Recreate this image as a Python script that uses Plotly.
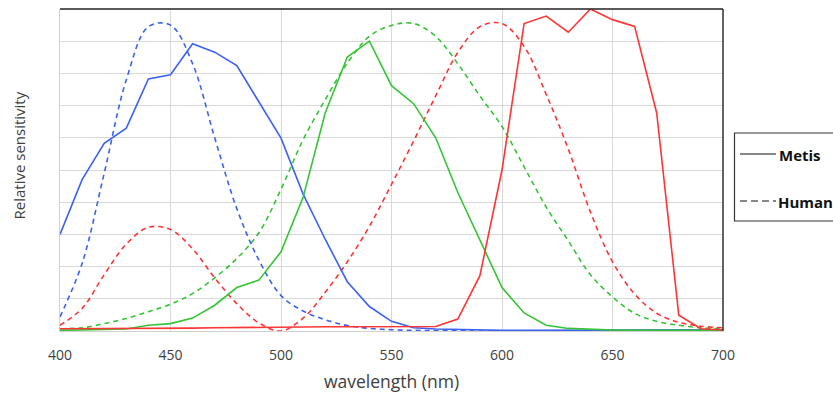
import plotly.graph_objects as go

wavelength = list(range(400, 701, 10))
x_ticks = [400, 450, 500, 550, 600, 650, 700]

metis_blue = [0.30, 0.47, 0.583, 0.63, 0.783, 0.796, 0.892, 0.866, 0.824, 0.711, 0.599,
              0.425, 0.285, 0.153, 0.076, 0.03, 0.01, 0.006, 0.004, 0.003, 0.002,
              0.002, 0.002, 0.002, 0.002, 0.002, 0.002, 0.002, 0.003, 0.003, 0.004]
metis_green = [0.002, 0.003, 0.004, 0.006, 0.018, 0.023, 0.04, 0.08, 0.135, 0.158, 0.246,
               0.415, 0.677, 0.851, 0.9, 0.762, 0.706, 0.6, 0.43, 0.282, 0.135,
               0.056, 0.018, 0.008, 0.005, 0.003, 0.002, 0.002, 0.002, 0.002, 0.002]
metis_red = [0.007, 0.007, 0.008, 0.008, 0.008, 0.008, 0.009, 0.01, 0.011, 0.012, 0.012,
             0.013, 0.013, 0.013, 0.013, 0.013, 0.013, 0.014, 0.037, 0.172, 0.5,
             0.955, 0.978, 0.928, 1.0, 0.967, 0.946, 0.677, 0.049, 0.007, 0.003]

human_blue = [0.044, 0.21, 0.49, 0.78, 0.945, 0.95, 0.83, 0.60, 0.38, 0.22, 0.11,
              0.062, 0.035, 0.017, 0.008, 0.004, 0.002, 0.001, 0.001, 0.0, 0.0,
              0.0, 0.0, 0.0, 0.0, 0.0, 0.0, 0.0, 0.0, 0.0, 0.0]
human_green = [0.007, 0.01, 0.023, 0.039, 0.06, 0.083, 0.116, 0.165, 0.225, 0.305, 0.44,
               0.594, 0.718, 0.832, 0.915, 0.949, 0.955, 0.915, 0.83, 0.73, 0.635,
               0.51, 0.385, 0.28, 0.175, 0.106, 0.055, 0.03, 0.018, 0.01, 0.006]
human_red = [0.018, 0.07, 0.175, 0.27, 0.322, 0.315, 0.255, 0.165, 0.085, 0.025, 0.0,
             0.04, 0.12, 0.215, 0.325, 0.455, 0.59, 0.73, 0.865, 0.945, 0.955,
             0.884, 0.735, 0.565, 0.37, 0.215, 0.115, 0.055, 0.027, 0.015, 0.01]

BLUE = "#3b62f2"
GREEN = "#35c435"
RED = "#ff3434"

fig = go.Figure()
for ys, col in [(human_blue, BLUE), (human_green, GREEN), (human_red, RED)]:
    fig.add_trace(go.Scatter(x=wavelength, y=ys, mode="lines", showlegend=False,
                             line=dict(color=col, width=1.6, dash="5px,4px", shape="spline", smoothing=1.0)))
for ys, col in [(metis_blue, BLUE), (metis_green, GREEN), (metis_red, RED)]:
    fig.add_trace(go.Scatter(x=wavelength, y=ys, mode="lines", showlegend=False,
                             line=dict(color=col, width=1.6)))

# body margin is removed in post_script, so figure coordinates = window coordinates
L, R, T, B = 60, 723, 9, 331
W, H = 833, 393


def px(x):
    return (x - L) / (R - L)


def py(y):
    return (B - y) / (B - T)


shapes = [
    dict(type="line", xref="paper", yref="paper", x0=0, x1=1, y0=1, y1=1,
         line=dict(color="#222222", width=1.6)),
    dict(type="line", xref="paper", yref="paper", x0=1, x1=1, y0=0, y1=1,
         line=dict(color="#222222", width=1.4)),
    dict(type="rect", xref="paper", yref="paper", x0=px(734.5), x1=px(850), y0=py(221), y1=py(133),
         line=dict(color="#333333", width=1.2), fillcolor="white"),
    dict(type="line", xref="paper", yref="paper", x0=px(740), x1=px(776), y0=py(154), y1=py(154),
         line=dict(color="#111111", width=1.2)),
    dict(type="line", xref="paper", yref="paper", x0=px(740), x1=px(776), y0=py(201), y1=py(201),
         line=dict(color="#111111", width=1.2, dash="7px,4px")),
]

annotations = [
    dict(text="<b>Metis</b>", xref="paper", yref="paper", x=px(777), y=py(155), xanchor="left",
         yanchor="middle", showarrow=False,
         font=dict(size=15, color="#111111", family="'Open Sans', sans-serif")),
    dict(text="<b>Human</b>", xref="paper", yref="paper", x=px(776), y=py(202), xanchor="left",
         yanchor="middle", showarrow=False,
         font=dict(size=15, color="#111111", family="'Open Sans', sans-serif")),
    dict(text="Relative sensitivity", xref="paper", yref="paper", x=px(18), y=py(155.5),
         xanchor="center", yanchor="middle", textangle=-90, showarrow=False,
         font=dict(size=15, color="#404040", family="'Open Sans', sans-serif")),
]

fig.update_layout(
    width=W, height=H,
    margin=dict(l=L, r=W - R, t=T, b=H - B, autoexpand=False),
    paper_bgcolor="white", plot_bgcolor="white",
    font=dict(family="'Open Sans', sans-serif", color="#404040"),
    shapes=shapes, annotations=annotations,
    xaxis=dict(range=[400, 700], tickvals=x_ticks, ticktext=[str(v) for v in x_ticks],
               showgrid=True, gridcolor="#d9d9d9", gridwidth=1, zeroline=False,
               showline=True, linecolor="#d0d0d0", linewidth=1,
               ticks="outside", ticklen=11, tickcolor="rgba(0,0,0,0)",
               tickfont=dict(size=14, color="#404040"),
               title=dict(text="wavelength (nm)", font=dict(size=17.5, color="#404040"), standoff=12)),
    yaxis=dict(range=[0, 1], dtick=0.1, showticklabels=False, showgrid=True,
               gridcolor="#d9d9d9", gridwidth=1, zeroline=False,
               showline=True, linecolor="#d0d0d0", linewidth=1),
)

fig.write_html("out.html", config={"displayModeBar": False},
               post_script="document.body.style.margin='0';document.body.style.overflow='hidden';")
